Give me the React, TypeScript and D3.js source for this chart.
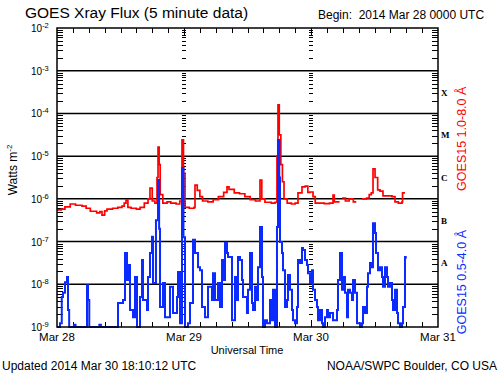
import React from 'react';
import * as d3 from 'd3';

const dayLabels = ['Mar 28', 'Mar 29', 'Mar 30', 'Mar 31'];
const decadeExps = [-2, -3, -4, -5, -6, -7, -8, -9];
const classLetters = ['X', 'M', 'C', 'B', 'A'];
const classExps = [-3.5, -4.5, -5.5, -6.5, -7.5];

// GOES15 0.5-4.0 A (hours since 2014 Mar 28 00:00 UTC, log10 W/m^2)
const shortTime = [0, 0.57, 0.9, 1.13, 1.51, 1.89, 2.08, 2.3, 3.2, 3.5, 5.5, 5.67, 5.86, 6.1, 8.0, 8.3, 11.53, 12.47, 12.85, 13.23, 13.42, 13.8, 14.36, 14.74, 15.12, 15.68, 16.06, 16.25, 17.01, 17.2, 17.57, 17.95, 18.14, 18.7, 19.09, 19.3, 19.47, 20.03, 20.41, 21.35, 21.92, 22.68, 22.87, 23.24, 23.62, 23.9, 24.19, 24.76, 25.13, 25.7, 26.08, 26.65, 27.02, 27.4, 27.97, 28.54, 29.29, 29.48, 29.86, 30.43, 30.8, 31.18, 31.37, 31.75, 32.13, 32.31, 33.07, 33.64, 34.02, 34.2, 34.58, 34.96, 35.15, 35.53, 35.9, 36.09, 36.47, 36.85, 37.04, 37.42, 37.79, 37.98, 38.36, 38.74, 38.93, 39.31, 39.68, 40.25, 40.63, 40.82, 41.2, 41.57, 41.76, 42.0, 42.14, 42.52, 42.71, 43.09, 43.47, 43.65, 44.03, 44.41, 44.6, 44.98, 45.35, 45.54, 45.92, 46.3, 46.49, 46.87, 47.24, 47.43, 47.81, 48.19, 48.38, 48.76, 49.13, 49.32, 49.7, 50.08, 50.27, 50.65, 51.02, 51.21, 51.59, 52.16, 52.91, 53.1, 53.48, 53.86, 54.05, 54.42, 54.8, 54.99, 55.37, 55.75, 55.94, 56.31, 56.69, 57.26, 57.64, 57.83, 58.2, 58.58, 58.77, 59.15, 59.53, 59.72, 60.09, 60.28, 60.66, 61.04, 61.42, 61.61, 61.98, 62.36, 62.55, 62.93, 63.31, 63.5, 63.87, 64.25, 64.44, 64.82, 65.2, 65.39, 65.76, 65.9];
const shortLog = [-9.0, -8.91, -8.3, -8.2, -7.95, -7.83, -8.6, -9.0, -8.95, -9.0, -9.0, -8.02, -8.37, -9.0, -8.95, -9.0, -8.44, -8.37, -7.27, -7.9, -7.55, -8.6, -8.77, -7.83, -9.0, -8.3, -7.43, -8.37, -8.6, -7.83, -7.27, -6.89, -7.97, -6.5, -5.56, -6.7, -8.53, -7.97, -8.77, -8.06, -8.67, -8.3, -7.71, -8.91, -5.28, -6.9, -9.0, -8.91, -8.44, -6.96, -7.27, -7.6, -7.67, -8.53, -8.77, -8.06, -8.37, -7.74, -8.37, -7.97, -8.53, -7.43, -7.9, -7.03, -7.27, -7.36, -8.84, -7.83, -8.37, -7.36, -7.43, -7.9, -8.3, -8.3, -8.67, -8.13, -7.27, -8.44, -8.6, -8.06, -8.37, -7.6, -6.66, -7.83, -9.0, -8.84, -8.91, -8.37, -8.84, -8.13, -9.0, -6.66, -4.62, -5.5, -7.01, -7.27, -7.67, -8.53, -8.37, -7.78, -8.13, -8.6, -8.84, -8.91, -8.53, -7.43, -7.5, -7.15, -7.2, -7.43, -7.55, -7.74, -7.97, -7.67, -8.13, -8.37, -8.53, -8.84, -8.6, -8.91, -9.0, -8.77, -8.6, -8.77, -8.67, -8.84, -8.6, -7.9, -7.27, -8.13, -7.83, -8.2, -8.77, -8.13, -8.2, -8.37, -7.9, -8.2, -8.91, -9.0, -8.91, -8.53, -8.67, -8.06, -7.74, -7.5, -7.6, -6.57, -6.8, -7.27, -7.67, -7.6, -7.83, -8.06, -7.6, -7.83, -8.06, -7.97, -8.37, -8.6, -8.13, -8.67, -8.91, -9.0, -8.91, -8.53, -7.36, -7.4];

// GOES15 1.0-8.0 A (null = data gap)
const longTime = [0, 0.8, 1.5, 2.5, 3.5, 4.72, 5.5, 6.3, 7.5, 8.1, 8.5, 9.0, 9.45, 10.5, 11.5, 12.28, 12.7, 13.04, 13.4, 14.0, 15.0, 15.7, 16.5, 17.2, 17.57, 18.0, 18.5, 18.9, 19.09, 19.3, 19.5, 20.0, 20.8, 21.5, 22.5, 23.2, 23.62, 23.9, 24.19, 25.0, 25.9, 26.08, 26.5, 27.0, 27.5, 28.5, 29.5, 30.5, 31.5, 32.13, 32.5, 33.5, 34.5, 35.5, 36.5, 37.5, 38.36, 38.7, 39.3, 40.5, 41.2, 41.57, 41.76, 42.0, 42.3, 42.6, 42.9, 43.5, 44.3, 45.0, 45.54, 46.3, 46.9, 47.4, 47.8, 48.38, 48.8, 49.5, 50.5, 51.5, 52.16, 52.4, 53.4, 53.5, 53.86, 54.5, 55.2, 56.0, 56.4, 56.6, 57.64, 58.5, 59.0, 59.4, 59.72, 60.1, 60.6, 61.04, 61.6, 62.5, 63.3, 63.87, 64.5, 65.2, 65.3, 65.76];
const longLog = [-6.26, -6.24, -6.19, -6.12, -6.15, -6.17, -6.22, -6.29, -6.33, -6.3, -6.38, -6.28, -6.24, -6.22, -6.2, -6.17, -6.1, -6.03, -6.2, -6.22, -6.24, -6.2, -6.1, -6.0, -5.75, -6.05, -6.1, -5.5, -4.79, -5.2, -5.9, -6.1, -6.07, -6.1, -6.12, -6.05, -4.62, -5.4, -6.2, -6.22, -6.2, -5.68, -5.8, -5.95, -6.05, -6.07, -6.02, -5.95, -5.85, -5.72, -5.78, -5.86, -5.88, -5.95, -6.02, -6.05, -5.56, -6.0, -6.08, -6.1, -6.08, -5.0, -3.8, -4.5, -5.2, -5.6, -6.0, -6.1, -6.12, -6.1, -5.86, -5.72, -5.7, -5.85, -5.84, -5.95, -6.1, -6.1, -6.11, -6.1, -5.91, -6.07, -6.07, null, -5.98, -6.05, -6.0, -6.07, -6.05, null, -6.0, -5.98, -5.9, -5.86, -5.3, -5.5, -5.79, -5.82, -5.93, -5.93, -5.95, -6.07, -6.1, -6.07, -5.86, -5.86];

const FONT = '"Liberation Sans", Arial, Helvetica, sans-serif';

export default function App() {
  const left = 57, right = 438, top = 28, bottom = 327;
  const x = d3.scaleLinear().domain([0, 72]).range([left, right]);
  const y = d3.scaleLog().domain([1e-9, 1e-2]).range([bottom, top]);

  const mk = (t: number[], v: (number | null)[]) => t.map((tt, i) => [tt, v[i]] as [number, number | null]);
  const line = d3.line<[number, number | null]>()
    .defined(d => d[1] !== null)
    .x(d => x(d[0]))
    .y(d => y(Math.pow(10, d[1] as number)))
    .curve(d3.curveStepAfter);

  const shortPath = line(mk(shortTime, shortLog)) || '';
  const longPath = line(mk(longTime, longLog)) || '';

  const minor: number[] = [];
  for (let e = -9; e < -2; e++) for (let m = 2; m <= 9; m++) minor.push(m * Math.pow(10, e));

  const hourTicks = d3.range(3, 72, 3);
  const dayHours = [24, 48];

  return (
    <svg width={500} height={375} style={{ position: 'absolute', left: 0, top: 0, background: '#fff' }} fontFamily={FONT}>
      <defs>
        <clipPath id="plot"><rect x={left} y={top} width={right - left} height={bottom - top + 1} /></clipPath>
      </defs>
      <rect x={0} y={0} width={500} height={375} fill="#fff" />
      {decadeExps.slice(1, -1).map(e => (
        <line key={'g' + e} x1={left} x2={right} y1={y(Math.pow(10, e))} y2={y(Math.pow(10, e))} stroke="#000" strokeWidth={1.5} />
      ))}
      {minor.map((v, i) => (
        <g key={'m' + i}>
          <line x1={left} x2={left + 6} y1={Math.round(y(v)) + 0.5} y2={Math.round(y(v)) + 0.5} stroke="#000" strokeWidth={1} />
          <line x1={right - 6} x2={right} y1={Math.round(y(v)) + 0.5} y2={Math.round(y(v)) + 0.5} stroke="#000" strokeWidth={1} />
          {dayHours.map(h => (
            <line key={h} x1={x(h) - 2} x2={x(h) + 2} y1={Math.round(y(v)) + 0.5} y2={Math.round(y(v)) + 0.5} stroke="#000" strokeWidth={1} />
          ))}
        </g>
      ))}
      {hourTicks.map(h => (
        <g key={'h' + h}>
          <line x1={Math.round(x(h)) + 0.5} x2={Math.round(x(h)) + 0.5} y1={top} y2={top + (h % 24 === 0 ? 7 : 5)} stroke="#000" />
          <line x1={Math.round(x(h)) + 0.5} x2={Math.round(x(h)) + 0.5} y1={bottom} y2={bottom - (h % 24 === 0 ? 7 : 5)} stroke="#000" />
        </g>
      ))}
      <g clipPath="url(#plot)">
        <path d={longPath} fill="none" stroke="#ff0000" strokeWidth={1.7} />
        <path d={shortPath} fill="none" stroke="#0a2aff" strokeWidth={2} />
      </g>
      <rect x={left} y={top} width={right - left} height={bottom - top} fill="none" stroke="#000" strokeWidth={1.5} />
      {decadeExps.map(e => (
        <text key={'yl' + e} x={31} y={y(Math.pow(10, e)) + 4} fontSize={10} fill="#000">
          10<tspan fontSize={7.5} dy={-4}>{String(e)}</tspan>
        </text>
      ))}
      <text transform="translate(17,170) rotate(-90)" textAnchor="middle" fontSize={12} fill="#000">
        Watts m<tspan fontSize={8} dy={-5}>-2</tspan>
      </text>
      {classLetters.map((c, i) => (
        <text key={c} x={441} y={y(Math.pow(10, classExps[i])) + 3.5} fontSize={9} fontWeight="bold" fontFamily='"Liberation Serif", "DejaVu Serif", serif' fill="#000">{c}</text>
      ))}
      <text transform={`translate(466,${(y(1e-3) + y(1e-6)) / 2 + 4}) rotate(-90)`} textAnchor="middle" fontSize={12.5} fill="#ff0000">GOES15 1.0-8.0 Å</text>
      <text transform={`translate(466,${(y(3e-7) + y(1e-9)) / 2 + 8}) rotate(-90)`} textAnchor="middle" fontSize={12.5} fill="#0a2aff">GOES15 0.5-4.0 Å</text>
      {dayLabels.map((d, i) => (
        <text key={d} x={x(i * 24)} y={341} textAnchor="middle" fontSize={11.5} fill="#000">{d}</text>
      ))}
      <text x={247} y={354} textAnchor="middle" fontSize={11} fill="#000">Universal Time</text>
      <text x={25} y={18} fontSize={15.5} fill="#000">GOES Xray Flux (5 minute data)</text>
      <text x={318} y={19} fontSize={12} fill="#000" style={{ whiteSpace: 'pre' }}>{'Begin:  2014 Mar 28 0000 UTC'}</text>
      <text x={2} y={370} fontSize={12} fill="#000">Updated 2014 Mar 30 18:10:12 UTC</text>
      <text x={497} y={370} textAnchor="end" fontSize={12} fill="#000">NOAA/SWPC Boulder, CO USA</text>
    </svg>
  );
}
